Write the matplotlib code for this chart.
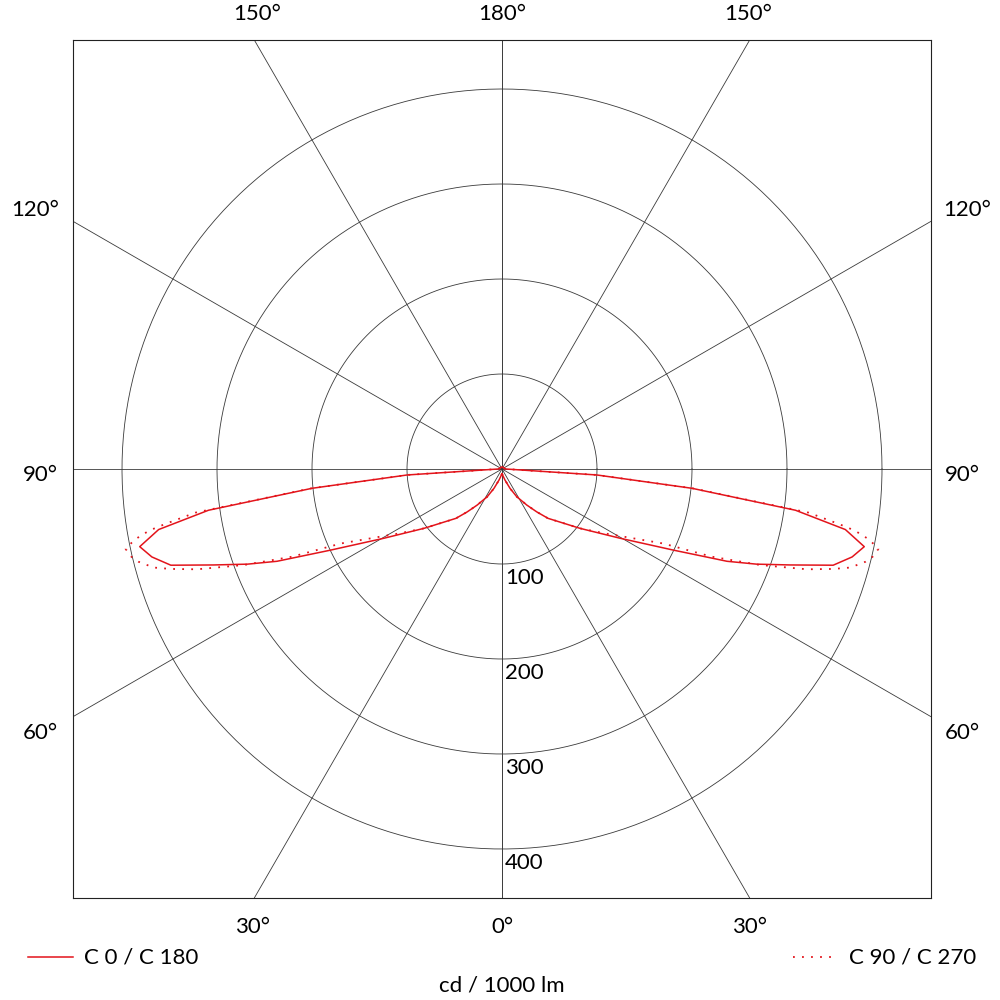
import matplotlib.pyplot as plt
import numpy as np

plt.rcParams['font.family'] = ['Lato', 'DejaVu Sans']

# luminous intensity distribution, gamma measured from nadir (0 deg = down)
gamma_c0 = [0, 15, 22.5, 28, 34.5, 39, 43, 52.7, 59.6, 64.7, 67.7, 69.5, 71.6, 73.8,
            75.9, 77.9, 80.0, 82.0, 84.2, 86.4, 90, 100, 120, 150, 180]
cd_c0 = [5, 12, 22, 33, 46, 58, 71, 103, 144, 200, 256, 286, 320, 363,
         380, 390, 367, 312, 201, 100, 4, 3, 2, 2, 2]

gamma_c90 = [0, 15, 22.5, 28, 34.5, 39, 43, 52.7, 58, 65.2, 67.3, 69.6, 71.8, 73.2,
             74.2, 75.7, 76.7, 78, 79.1, 80.1, 80.7, 81.9, 84.2, 86.4, 90, 100, 120, 150, 180]
cd_c90 = [5, 12, 22, 33, 46, 58, 71, 103, 128, 187, 239, 290, 338, 364,
          381, 395, 401, 405, 394, 377, 360, 326, 202, 100, 4, 3, 2, 2, 2]

rings = [100, 200, 300, 400]
spokes = [30, 60, 90, 120, 150, 180]
legend_labels = ['C 0 / C 180', 'C 90 / C 270']
unit_label = 'cd / 1000 lm'

red = '#e3141b'
grid = '#3a3a3a'

fig = plt.figure(figsize=(10, 10), dpi=100)
ax = fig.add_axes([0.073, 0.102, 0.858, 0.858])
lim = 429 / 0.95
ax.set_xlim(-lim, lim)
ax.set_ylim(-lim, lim)
ax.set_aspect('equal')
ax.set_xticks([])
ax.set_yticks([])
for s in ax.spines.values():
    s.set_linewidth(0.8)
    s.set_color('#222222')

# grid: rings and spokes
t = np.linspace(0, 2 * np.pi, 400)
for r in rings:
    ax.plot(r * np.cos(t), r * np.sin(t), color=grid, lw=0.6, zorder=1)
    ax.text(3, -r - 4, str(r), ha='left', va='top', fontsize=16, zorder=4)
for a in [0] + spokes:
    g = np.radians(a)
    L = 1000
    ax.plot([0, L * np.sin(g)], [0, -L * np.cos(g)], color=grid, lw=0.6, zorder=1)
    ax.plot([0, -L * np.sin(g)], [0, -L * np.cos(g)], color=grid, lw=0.6, zorder=1)


def draw(gam, cd, **kw):
    g = np.radians(gam)
    cd = np.array(cd)
    x = cd * np.sin(g)
    y = -cd * np.cos(g)
    ax.plot(x, y, **kw)
    ax.plot(-x, y, **kw)


draw(gamma_c90, cd_c90, color=red, lw=1.3, linestyle=(0, (1, 4)), zorder=2)
draw(gamma_c0, cd_c0, color=red, lw=1.1, zorder=3)

# angle labels
fs = 16
labels = [
    (257, 14, '150°'), (502, 14, '180°'), (748, 14, '150°'),
    (253, 927, '30°'), (502, 927, '0°'), (750, 927, '30°'),
    (35, 210, '120°'), (40, 475, '90°'), (40, 733, '60°'),
    (967, 210, '120°'), (962, 475, '90°'), (962, 733, '60°'),
]
for x, y, s in labels:
    fig.text(x / 1000, 1 - y / 1000, s, ha='center', va='center', fontsize=fs)

# legend
fig.add_artist(plt.Line2D([0.028, 0.073], [0.043, 0.043], color=red, lw=1.1))
fig.text(0.084, 0.043, legend_labels[0], ha='left', va='center', fontsize=fs)
fig.add_artist(plt.Line2D([0.793, 0.838], [0.043, 0.043], color=red, lw=1.3,
                          linestyle=(0, (1, 4))))
fig.text(0.849, 0.043, legend_labels[1], ha='left', va='center', fontsize=fs)
fig.text(0.502, 0.015, unit_label, ha='center', va='center', fontsize=fs)

fig.savefig('out.png', dpi=100)
